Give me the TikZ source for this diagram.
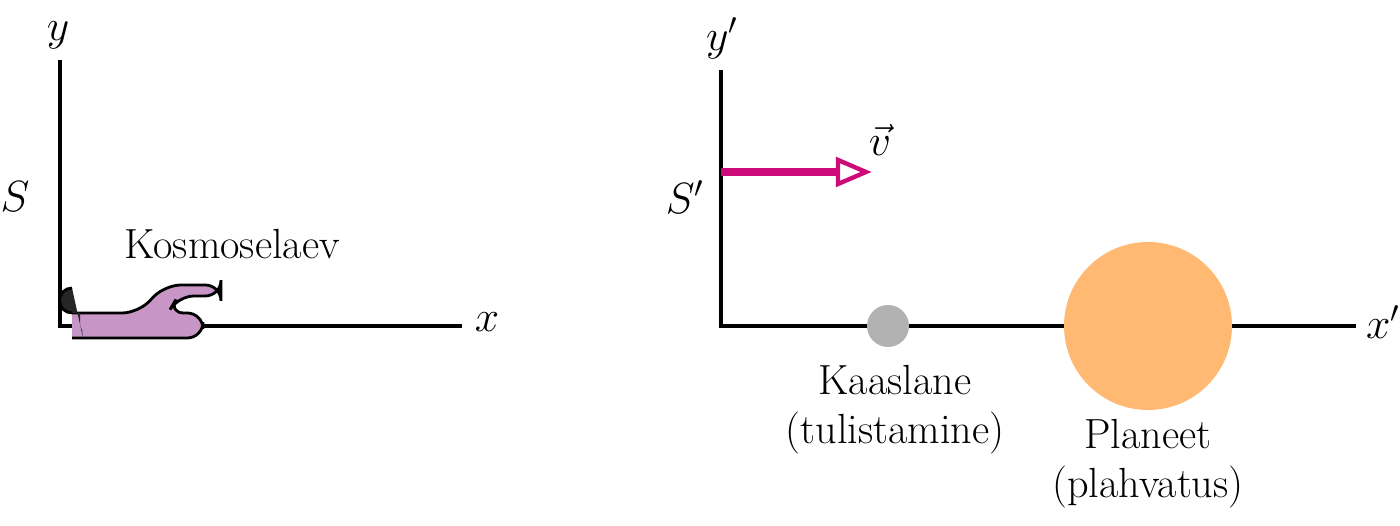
\documentclass[tikz,border=0pt]{standalone}
\begin{document}
\begin{tikzpicture}[x=0.02cm,y=-0.02cm,
  ax/.style={line width=2.2pt},
  lbl/.style={font=\fontsize{24}{28}\selectfont},
  it/.style={font=\fontsize{26}{28}\selectfont\itshape}]
\useasboundingbox (0,0) rectangle (1400,526);
% left frame
\coordinate (ly) at (60,60); \coordinate (lo) at (60,326); \coordinate (lx) at (462,326);
\draw[ax] (ly) -- (lo) -- (lx);
\node[it] (ylab) at (58,35) {$y$};
\node[it] (xlab) at (487,322) {$x$};
\node[it] (slab) at (15,197) {$S$};
\node[lbl] (ship) at (232,244) {Kosmoselaev};
% spaceship
\definecolor{shipc}{HTML}{C796C6}
\draw[line width=1.6pt, fill=shipc, rounded corners=9pt]
  (72,313) -- (138,313) -- (165,285) -- (221,285) -- (221,296) -- (178,296) -- (168,313) -- (203,313) -- (203,338) -- (72,338);
\fill[black!85] (80,313) -- (72,313) arc (90:270:12.5) -- (83,338) -- (82,330) -- (80,326) -- cycle;
\draw[line width=1.6pt] (72,313) arc (90:270:12.5);
% right frame
\coordinate (ry) at (721,70); \coordinate (ro) at (721,326); \coordinate (rx) at (1356,326);
\draw[ax] (ry) -- (ro) -- (rx);
\node[it] (yplab) at (722,38) {$y'$};
\node[it] (xplab) at (1383,322) {$x'$};
\node[it] (splab) at (685,197) {$S'$};
% velocity arrow
\definecolor{mag}{HTML}{CC0A78}
\coordinate (va) at (721,172); \coordinate (vb) at (840,172);
\draw[mag, line width=5pt] (va) -- (vb);
\draw[mag, line width=2.5pt, fill=white] (838,160) -- (866,172) -- (838,184) -- cycle;
\node[it] (vlab) at (880,140) {$\vec{v}$};
% bodies
\fill[gray!60] (888,326) circle (21);
\fill[orange!55!white] (1148,326) circle (84);
\node[lbl, align=center] (gas) at (895,410) {Kaaslane\\(tulistamine)};
\node[lbl, align=center] (pl) at (1148,464) {Planeet\\(plahvatus)};
\end{tikzpicture}
\end{document}
